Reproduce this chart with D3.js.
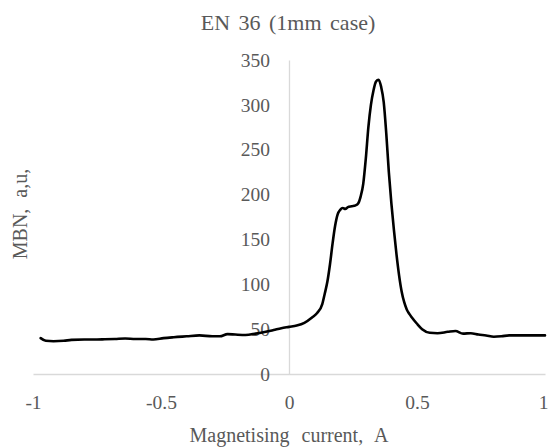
<!DOCTYPE html>
<html>
<head>
<meta charset="utf-8">
<script src="https://cdn.jsdelivr.net/npm/d3@7"></script>
<style>
  body { margin: 0; background: #fff; }
  text { font-family: "Liberation Serif", "Times New Roman", serif; fill: #595959; }
</style>
</head>
<body>
<div id="chart"></div>
<script>
// Data
const current = [-0.97, -0.95, -0.92, -0.88, -0.85, -0.80, -0.75, -0.72, -0.68, -0.64,
  -0.60, -0.56, -0.53, -0.49, -0.45, -0.40, -0.35, -0.30, -0.27, -0.24,
  -0.21, -0.17, -0.13, -0.10, -0.06, -0.03, 0, 0.03, 0.06, 0.09,
  0.11, 0.13, 0.14, 0.15, 0.16, 0.17, 0.18, 0.19, 0.20, 0.21,
  0.22, 0.23, 0.245, 0.26, 0.27, 0.28, 0.29, 0.30, 0.31, 0.32,
  0.33, 0.34, 0.35, 0.36, 0.37, 0.38, 0.39, 0.40, 0.41, 0.42,
  0.43, 0.44, 0.45, 0.46, 0.47, 0.48, 0.50, 0.52, 0.55, 0.58,
  0.62, 0.65, 0.68, 0.71, 0.74, 0.77, 0.80, 0.83, 0.86, 0.90,
  0.95, 1.0];
const mbn = [40, 37, 36.5, 37, 38, 38.5, 38.5, 38.7, 39, 39.5,
  39, 39, 38.5, 40, 41, 42, 43, 42, 42, 44.5,
  44, 43.5, 45, 46.5, 49, 51, 52.5, 54, 57, 63,
  68, 78, 90, 103, 122, 145, 165, 178, 183, 185,
  184, 186, 187, 188, 190, 198, 212, 240, 275, 300,
  316, 326, 328, 320, 303, 268, 225, 190, 160, 133,
  110, 92, 80, 72, 67, 63, 56, 50, 46, 45.5,
  47, 48, 45, 45.5, 44, 43, 41.5, 42, 43, 43,
  43, 43];
const xTicks = [-1, -0.5, 0, 0.5, 1];
const yTicks = [0, 50, 100, 150, 200, 250, 300, 350];

const w = 548, h = 448;
const margin = { top: 60, right: 3, bottom: 74, left: 33 };

const svg = d3.select("#chart").append("svg")
    .attr("width", w)
    .attr("height", h);

const x = d3.scaleLinear()
    .domain([-1, 1])
    .range([margin.left, w - margin.right]);

const y = d3.scaleLinear()
    .domain([0, 350])
    .range([h - margin.bottom, margin.top]);

// X axis along y = 0
const xAxis = svg.append("g")
    .attr("transform", `translate(0, ${y(0)})`)
    .call(d3.axisBottom(x).tickValues(xTicks).tickSize(0).tickPadding(21)
        .tickFormat(d => String(d)));
xAxis.select(".domain").attr("stroke", "#d9d9d9").attr("stroke-width", 1.3);
xAxis.selectAll("text").attr("font-size", 19.5).style("fill", "#595959")
    .attr("font-family", "Liberation Serif, Times New Roman, serif");
// last label sits at the right edge, keep it inside
xAxis.selectAll("text").filter(d => d === 1).attr("dx", -2);

// Y axis along x = 0
const yAxis = svg.append("g")
    .attr("transform", `translate(${x(0)}, 0)`)
    .call(d3.axisLeft(y).tickValues(yTicks).tickSize(0).tickPadding(19));
yAxis.select(".domain").attr("stroke", "#d9d9d9").attr("stroke-width", 1.3);
yAxis.selectAll("text").attr("font-size", 19.5).style("fill", "#595959")
    .attr("font-family", "Liberation Serif, Times New Roman, serif");

// Curve
const pts = current.map((c, i) => [c, mbn[i]]);
svg.append("path")
    .datum(pts)
    .attr("fill", "none")
    .attr("stroke", "#000")
    .attr("stroke-width", 2.6)
    .attr("stroke-linejoin", "round")
    .attr("stroke-linecap", "round")
    .attr("d", d3.line()
        .x(d => x(d[0]))
        .y(d => y(d[1]))
        .curve(d3.curveMonotoneX));

// Title
svg.append("text")
    .attr("x", 288)
    .attr("y", 30)
    .attr("text-anchor", "middle")
    .attr("font-size", 22)
    .style("word-spacing", "3px")
    .text("EN 36 (1mm case)");

// Axis titles
svg.append("text")
    .attr("x", 289)
    .attr("y", 442)
    .attr("text-anchor", "middle")
    .attr("font-size", 20)
    .style("word-spacing", "7px")
    .text("Magnetising current, A");

svg.append("text")
    .attr("transform", "translate(27, 214) rotate(-90)")
    .attr("text-anchor", "middle")
    .attr("font-size", 20)
    .style("word-spacing", "6px")
    .text("MBN, a,u,");
</script>
</body>
</html>
